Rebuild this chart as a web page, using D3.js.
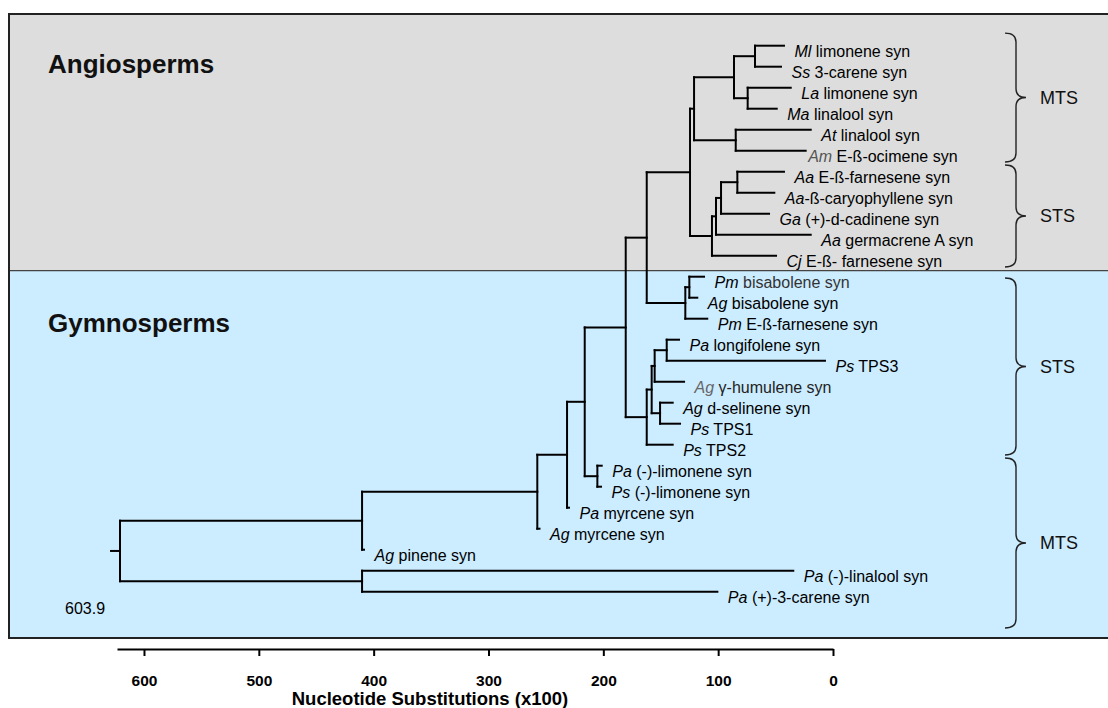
<!DOCTYPE html>
<html>
<head>
<meta charset="utf-8">
<script src="https://cdn.jsdelivr.net/npm/d3@7"></script>
<style>
  html, body { margin: 0; padding: 0; background: #ffffff; }
  svg { display: block; }
  text { font-family: "Liberation Sans", Arial, Helvetica, sans-serif; white-space: pre; }
</style>
</head>
<body>
<svg id="chart" width="1108" height="708"></svg>
<script>
// ---------------- DATA ----------------
// Leaves, top to bottom
const leafSpecies = ["Ml","Ss","La","Ma","At","Am","Aa","Aa","Ga","Aa","Cj",
  "Pm","Ag","Pm","Pa","Ps","Ag","Ag","Ps","Ps","Pa","Ps","Pa","Ag","Ag","Pa","Pa"];
const leafText = [" limonene syn"," 3-carene syn"," limonene syn"," linalool syn",
  " linalool syn"," E-ß-ocimene syn"," E-ß-farnesene syn","-ß-caryophyllene syn",
  " (+)-d-cadinene syn"," germacrene A syn"," E-ß- farnesene syn",
  " bisabolene syn"," bisabolene syn"," E-ß-farnesene syn"," longifolene syn",
  " TPS3"," γ-humulene syn"," d-selinene syn"," TPS1"," TPS2",
  " (-)-limonene syn"," (-)-limonene syn"," myrcene syn"," myrcene syn",
  " pinene syn"," (-)-linalool syn"," (+)-3-carene syn"];
const leafParent = ["A","A","B","B","D","D","F","F","G","H","I",
  "N","N","L","O","O","P","Q","Q","S","V","V","W","X","Y","Z","Z"];
// position of each tip on the substitution scale (x100)
const leafDist = [42.7,45.3,36.8,49.0,19.4,23.8,42.7,51.1,55.7,19.4,49.6,
  112.3,118.2,109.5,134.1,7.0,129.7,139.6,133.2,139.6,
  201.4,202.0,229.9,255.6,408.4,34.6,100.7];

// Internal nodes
const nodeIds    = ["root","Y","X","W","U","M","K","J","E","C","A","B","D","I","H","G","F","L","N","S","R","P","O","Q","V","Z"];
const nodeParent = ["",    "root","Y","X","W","U","M","K","J","E","C","C","E","J","I","H","G","K","L","M","S","R","P","R","U","root"];
const nodeDist   = [620.9, 410.1, 257.5, 231.6, 216.2, 180.5, 162.2, 124.5, 121.0, 86.2, 67.9, 74.3, 84.7,
  105.4, 101.9, 97.5, 83.3, 128.6, 125.1, 162.2, 157.9, 155.3, 144.8, 150.6, 205.2, 410.1];

const rootLabel = "603.9";

// Axis
const axisTicks = [600, 500, 400, 300, 200, 100, 0];
const axisTitle = "Nucleotide Substitutions (x100)";

// Clade groups (row-index span) and their labels
const braceLabels = ["MTS", "STS", "STS", "MTS"];
const braceStart  = [-0.6, 5.68, 11.06, 19.63];
const braceEnd    = [5.54, 10.54, 19.49, 27.73];

const groupLabels = ["Angiosperms", "Gymnosperms"];

// ---------------- DRAW ----------------
const W = 1108, H = 708;
const svg = d3.select("#chart");

const boxL = 9, boxT = 14, boxDiv = 270.7, boxB = 638;

svg.append("rect").attr("x", boxL).attr("y", boxT).attr("width", W - boxL + 10).attr("height", boxDiv - boxT)
  .attr("fill", "#dddddd");
svg.append("rect").attr("x", boxL).attr("y", boxDiv).attr("width", W - boxL + 10).attr("height", boxB - boxDiv)
  .attr("fill", "#ccecff");
svg.append("line").attr("x1", boxL).attr("x2", W + 5).attr("y1", boxDiv).attr("y2", boxDiv)
  .attr("stroke", "#444").attr("stroke-width", 1.2);
svg.append("path").attr("d", `M${W + 5},${boxT}H${boxL}V${boxB}H${W + 5}`)
  .attr("fill", "none").attr("stroke", "#222").attr("stroke-width", 2);

svg.append("text").attr("x", 48).attr("y", 72.5).attr("font-size", 26).attr("font-weight", "bold")
  .attr("fill", "#111").text(groupLabels[0]);
svg.append("text").attr("x", 48).attr("y", 331.5).attr("font-size", 26).attr("font-weight", "bold")
  .attr("fill", "#111").text(groupLabels[1]);

// scales
const x = d3.scaleLinear().domain([623.5, 0]).range([117, 833]);
const rowY = d3.scaleLinear().domain([0, 26]).range([45.7, 591.7]);

// hierarchy
const rows = [];
nodeIds.forEach((id, i) => rows.push({ id, parent: nodeParent[i] || null, dist: nodeDist[i], leaf: -1 }));
leafSpecies.forEach((s, i) => rows.push({ id: "leaf" + i, parent: leafParent[i], dist: leafDist[i], leaf: i }));
const root = d3.stratify().id(d => d.id).parentId(d => d.parent)(rows);

root.eachAfter(n => {
  if (n.data.leaf >= 0) n.yy = rowY(n.data.leaf);
  else {
    const ys = n.children.map(c => c.yy).sort((a, b) => a - b);
    n.yy = (ys[0] + ys[ys.length - 1]) / 2;
  }
  n.xx = x(n.data.dist);
});

const g = svg.append("g").attr("fill", "none").attr("stroke", "#000").attr("stroke-width", 2)
  .attr("stroke-linecap", "square");

root.descendants().forEach(n => {
  if (n.children) {
    const ys = n.children.map(c => c.yy);
    g.append("line").attr("x1", n.xx).attr("x2", n.xx)
      .attr("y1", d3.min(ys)).attr("y2", d3.max(ys));
  }
  if (n.parent) {
    g.append("line").attr("x1", n.parent.xx).attr("x2", n.xx).attr("y1", n.yy).attr("y2", n.yy);
  }
});
// root stub
g.append("line").attr("x1", x(root.data.dist + 7.8)).attr("x2", root.xx).attr("y1", root.yy).attr("y2", root.yy);

// leaf labels
const speciesColor = { 5: "#555", 16: "#666" };
const textColor = { 11: "#333", 16: "#222" };
const labelGap = { 5: 2.5 };
root.leaves().forEach(n => {
  const i = n.data.leaf;
  const t = svg.append("text").attr("x", n.xx + (labelGap[i] !== undefined ? labelGap[i] : 10.5)).attr("y", n.yy + 11)
    .attr("font-size", 16).attr("fill", "#000");
  t.append("tspan").attr("font-style", "italic").attr("fill", speciesColor[i] || "#000").text(leafSpecies[i]);
  t.append("tspan").attr("fill", textColor[i] || "#000").text(leafText[i]);
});

svg.append("text").attr("x", 65).attr("y", 614).attr("font-size", 16).attr("fill", "#000").text(rootLabel);

// braces
const bx0 = 1005, bxm = 1016, bxt = 1026, br = 9;
braceLabels.forEach((lab, i) => {
  const y0 = rowY(braceStart[i]), y1 = rowY(braceEnd[i]), ym = (y0 + y1) / 2;
  const d = `M${bx0},${y0}Q${bxm},${y0} ${bxm},${y0 + br}L${bxm},${ym - br}` +
            `Q${bxm},${ym} ${bxt},${ym}Q${bxm},${ym} ${bxm},${ym + br}` +
            `L${bxm},${y1 - br}Q${bxm},${y1} ${bx0},${y1}`;
  svg.append("path").attr("d", d).attr("fill", "none").attr("stroke", "#222").attr("stroke-width", 1.4);
  svg.append("text").attr("x", 1040).attr("y", ym).attr("dy", "0.35em").attr("font-size", 18)
    .attr("fill", "#111").text(lab);
});

// axis
const axis = d3.axisBottom(x).tickValues(axisTicks).tickFormat(d3.format("d"))
  .tickSize(7).tickSizeOuter(0).tickPadding(19);
const ax = svg.append("g").attr("transform", "translate(0,649)").call(axis);
ax.select(".domain").attr("stroke", "#000").attr("stroke-width", 2);
ax.selectAll(".tick line").attr("stroke", "#000").attr("stroke-width", 2);
ax.selectAll(".tick text").attr("font-size", 15.5).attr("font-weight", "bold").attr("fill", "#000")
  .attr("font-family", "'Liberation Sans', Arial, sans-serif");

svg.append("text").attr("x", 430).attr("y", 705).attr("text-anchor", "middle").attr("font-size", 18.5)
  .attr("font-weight", "bold").attr("fill", "#000").text(axisTitle);
</script>
</body>
</html>
